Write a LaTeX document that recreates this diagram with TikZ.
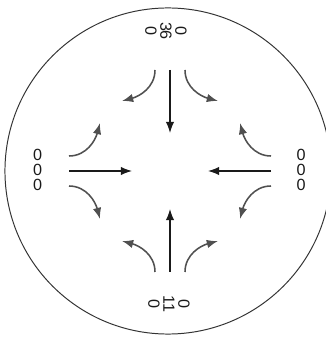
\documentclass[tikz,border=0pt]{standalone}
\usepackage{fontspec}
\setmainfont{Liberation Sans}
\usepackage{tikz}
\usepackage{xcolor}
\usetikzlibrary{arrows.meta,positioning,calc}
\definecolor{ink}{HTML}{1A1A1A}
\definecolor{inkgray}{HTML}{505050}
\definecolor{rimgray}{HTML}{333333}
\tikzset{
  rim/.style={draw=rimgray,line width=0.7pt},
  countlbl/.style={align=center,inner sep=1pt,
                   font=\fontsize{11.5}{10.7}\selectfont,text=ink},
  inarr/.style={-{Latex[length=2.8mm,width=2.1mm]},line width=0.9pt,color=ink},
  bendarr/.style={-{Latex[length=2.8mm,width=2.1mm]},line width=1.1pt,color=inkgray}
}

\begin{document}
\begin{tikzpicture}[x=0.025cm,y=0.025cm]
  \useasboundingbox (0,0) rectangle (326,343);
  \coordinate (rimc) at (168,172);
  \coordinate (c) at (170,172);
  \draw[rim] (rimc) circle (4.075cm);
  % counts round the rim
  \node[countlbl,rotate=-90] (ctop) at (166,312) {0\\36\\0};
  \node[countlbl,rotate=-90] (cbot) at (169,39) {0\\11\\0};
  \node[countlbl] (cleft) at (37.5,173) {0\\0\\0};
  \node[countlbl] (cright) at (301,173) {0\\0\\0};
  % inflow and turning arrows, one set per side
  \foreach \r in {0,90,180,270}{
    \begin{scope}[shift={(c)},rotate=\r]
      \draw[inarr] (0,101) -- (0,38);
      \draw[bendarr] (15,101) to[out=-90,in=165] (48,70);
      \draw[bendarr] (-15,101) to[out=-90,in=15] (-48,70);
    \end{scope}
  }
\end{tikzpicture}
\end{document}
